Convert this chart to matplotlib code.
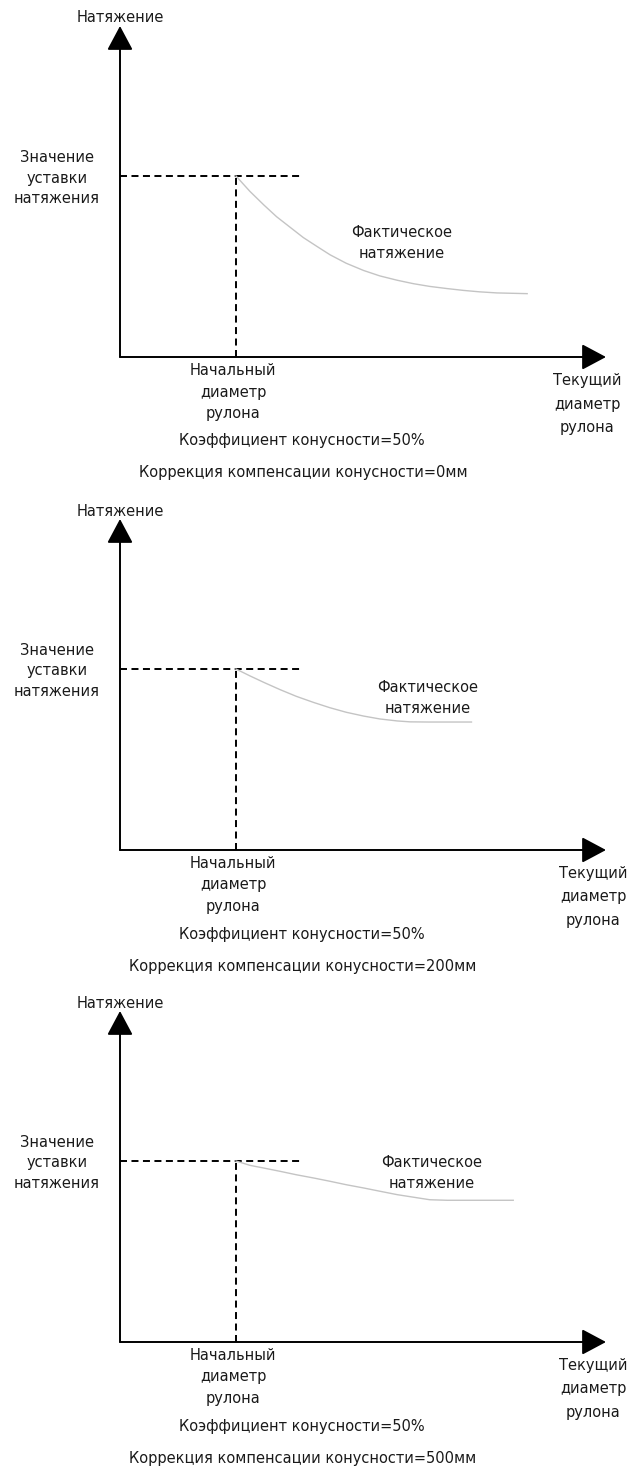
import matplotlib
matplotlib.use("Agg")
import matplotlib.pyplot as plt

plt.rcParams["font.family"] = ["DejaVu Sans"]

# --- данные (диаметр в усл. ед.: начальный диаметр = 100; натяжение в % от уставки) ---
start_diameter = 100
setpoint_tension = 100

corrections = ["0мм", "200мм", "500мм"]
taper_coef = "50%"

diam_0 = [100, 112, 124, 135, 147, 158, 170, 181, 195, 210, 224, 239, 253, 267,
          282, 296, 310, 325, 351]
tens_0 = [100, 91.5, 84, 77.5, 71.5, 66, 61, 56.5, 51.8, 47.8, 44.8, 42.4,
          40.5, 39.0, 37.8, 36.8, 36.0, 35.4, 35.0]

diam_200 = [100, 112, 124, 138, 152, 167, 181, 195, 210, 224, 239, 250, 267, 303]
tens_200 = [100, 96.2, 92.6, 88.6, 84.9, 81.5, 78.6, 76.1, 74.0, 72.4, 71.3,
            70.8, 70.7, 70.7]

diam_500 = [100, 112, 124, 138, 152, 167, 181, 195, 210, 224, 239, 253, 267,
            282, 296, 339]
tens_500 = [100, 97.6, 96.1, 94.3, 92.4, 90.6, 88.8, 86.9, 85.1, 83.3, 81.4,
            80.0, 78.6, 78.3, 78.3, 78.3]

curves = [(diam_0, tens_0), (diam_200, tens_200), (diam_500, tens_500)]

# --- оформление ---
W, H = 635, 1467
AXIS_X = 120          # пиксель оси Y
PX_D = 1.16           # пикселей на единицу диаметра
PX_T = 1.81           # пикселей на единицу натяжения
axis_rows = [357, 850, 1342]
actual_label_pos = [(402, -114), (428, -152), (432, -169)]
current_label_x = [587, 593, 593]
TEXT = "#1a1a1a"
FS = 10.5

fig = plt.figure(figsize=(W / 100, H / 100), dpi=100)


def d_at(px):
    return (px - AXIS_X) / PX_D


def t_at(dy):
    return -dy / PX_T


for i, (row, (dd, tt)) in enumerate(zip(axis_rows, curves)):
    top, bot = row - 345, row + 125
    ax = fig.add_axes([0, 1 - bot / H, 1, (bot - top) / H])
    ax.set_xlim(d_at(0), d_at(W))
    ax.set_ylim(t_at(125), t_at(-345))
    ax.axis("off")

    # оси со стрелками
    arrow = dict(arrowstyle="-|>,head_length=1.5,head_width=0.8",
                 color="black", lw=1.4, shrinkA=0, shrinkB=0,
                 mutation_scale=10)
    ax.annotate("", xy=(0, t_at(-331)), xytext=(0, 0), arrowprops=arrow)
    ax.annotate("", xy=(d_at(606), 0), xytext=(0, 0), arrowprops=arrow)

    # уставка и начальный диаметр
    dash = (0, (3.6, 2.3))
    ax.plot([0, d_at(303)], [setpoint_tension] * 2, color="black", lw=1.4,
            linestyle=dash)
    ax.plot([start_diameter] * 2, [0, setpoint_tension], color="black",
            lw=1.4, linestyle=dash)

    # фактическое натяжение
    ax.plot(dd, tt, color="#c4c4c4", lw=1.0)

    kw = dict(ha="center", va="center", color=TEXT, fontsize=FS,
              linespacing=1.47, clip_on=False)
    ax.text(0, t_at(-339), "Натяжение", **kw)
    ax.text(d_at(57), t_at(-179), "Значение\nуставки\nнатяжения", **kw)
    ax.text(d_at(233), t_at(35), "Начальный\nдиаметр\nрулона",
            **dict(kw, linespacing=1.55))
    ax.text(d_at(current_label_x[i]), t_at(47), "Текущий\nдиаметр\nрулона",
            **dict(kw, linespacing=1.7))
    ax.text(d_at(302), t_at(84),
            "Коэффициент конусности=" + taper_coef, **kw)
    ax.text(d_at(303), t_at(116),
            "Коррекция компенсации конусности=" + corrections[i], **kw)
    lx, ly = actual_label_pos[i]
    ax.text(d_at(lx), t_at(ly), "Фактическое\nнатяжение",
            **dict(kw, linespacing=1.43))

fig.savefig("out.png", dpi=100)
